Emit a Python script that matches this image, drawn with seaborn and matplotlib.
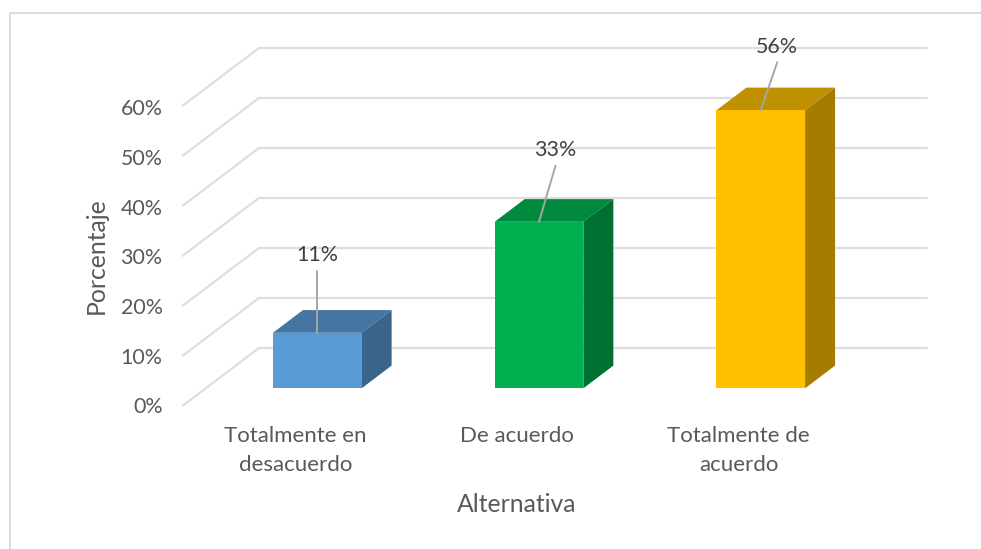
import matplotlib
matplotlib.use("Agg")
import matplotlib.pyplot as plt
import pandas as pd
import seaborn as sns
from matplotlib.lines import Line2D
from matplotlib.patches import Polygon
from matplotlib.transforms import Affine2D, IdentityTransform

categories = ["Totalmente en\ndesacuerdo", "De acuerdo", "Totalmente de\nacuerdo"]
values = [11.1, 33.3, 55.6]
value_labels = ["11%", "33%", "56%"]
y_ticks = [0, 10, 20, 30, 40, 50, 60]
y_tick_labels = ["0%", "10%", "20%", "30%", "40%", "50%", "60%"]
front_colors = ["#5B9BD5", "#00B050", "#FFC000"]
top_colors = ["#4475A3", "#008A3E", "#BF9000"]
side_colors = ["#3A6489", "#006F32", "#A67C00"]

W, H = 981, 549
sns.set_theme(style="white")
plt.rcParams["font.family"] = ["Lato", "DejaVu Sans"]
TEXT = "#595959"
GRID = "#DEDEDE"
FS_TICK = 15.4
FS_CAT = 16
FS_TITLE = 17.8

fig = plt.figure(figsize=(W / 100, H / 100), dpi=100, facecolor="white")
L, R, T, B = 206.4, 871.6, 88.3, 388.3
ax = fig.add_axes([L / W, 1 - B / H, (R - L) / W, (B - T) / H])

df = pd.DataFrame({"Alternativa": categories, "Porcentaje": values})
sns.barplot(data=df, x="Alternativa", y="Porcentaje", hue="Alternativa",
            palette=front_colors, order=categories, hue_order=categories,
            width=0.4, saturation=1, legend=False, ax=ax, zorder=5,
            edgecolor="none", linewidth=0, errorbar=None)
ax.set_xlim(-0.5, 2.5)
ax.set_ylim(0, 60)
for s in ax.spines.values():
    s.set_visible(False)
ax.patch.set_visible(False)

# wall and floor gridlines
for v in y_ticks:
    left = ax.transData.transform((-0.5, v))
    right = ax.transData.transform((2.5, v))
    corner = left + (52.6, 40.3)
    end = right + (55.4, 40.3)
    near = left + (-23.7, -17.4)
    ax.add_line(Line2D([near[0], corner[0], end[0]], [near[1], corner[1], end[1]],
                       transform=IdentityTransform(), color=GRID, lw=1.6,
                       clip_on=False, zorder=1, solid_joinstyle="miter"))

# 3-D faces built from the bars the library drew
DX, DY = 30, 22.7
for bar, top, side in zip(ax.patches, top_colors, side_colors):
    x, w, h = bar.get_x(), bar.get_width(), bar.get_height()
    br = ax.transData.transform((x + w, 0))
    tl = ax.transData.transform((x, h))
    tr = ax.transData.transform((x + w, h))
    d = (DX, DY)
    ax.add_patch(Polygon([tl, tr, tr + d, tl + d], closed=True, facecolor=top, edgecolor="none",
                         transform=IdentityTransform(), clip_on=False, zorder=4))
    ax.add_patch(Polygon([br, br + d, tr + d, tr], closed=True, facecolor=side, edgecolor="none",
                         transform=IdentityTransform(), clip_on=False, zorder=4))

# data labels and leader lines
label_offsets = [(0.5, 77.5), (16.5, 72), (16, 63)]
leader_starts = [(0, 62), (16.5, 56), (16.5, 48)]
for i, (v, txt) in enumerate(zip(values, value_labels)):
    a = ax.transData.transform((i, v))
    lo = label_offsets[i]
    ls = leader_starts[i]
    ax.add_line(Line2D([a[0], a[0] + ls[0]], [a[1], a[1] + ls[1]], transform=IdentityTransform(),
                       color="#A6A6A6", lw=1.4, clip_on=False, zorder=6))
    ax.annotate(txt, xy=(i, v), xytext=lo, textcoords="offset pixels", ha="center", va="center",
                fontsize=FS_TICK, color="#404040", zorder=7)

# axes text
ax.set_yticks(y_ticks)
ax.set_yticklabels(y_tick_labels, fontsize=FS_TICK, color=TEXT)
ax.tick_params(axis="y", length=0, pad=31.5)
ax.tick_params(axis="x", length=0, pad=27, labelsize=FS_CAT, labelcolor=TEXT)
for v, lab in zip(y_ticks, ax.get_yticklabels()):
    lab.set_transform(lab.get_transform() + Affine2D().translate(0, -17 - v / 30))
for lab in ax.get_xticklabels():
    lab.set_linespacing(1.55)
    lab.set_transform(lab.get_transform() + Affine2D().translate(-22, 0))

ax.set_xlabel("Alternativa", fontsize=FS_TITLE, color=TEXT)
ax.set_ylabel("Porcentaje", fontsize=FS_TITLE, color=TEXT)
ax.xaxis.set_label_coords((517 - L) / (R - L), -(505 - B) / (B - T))
ax.xaxis.label.set_va("center")
ax.yaxis.set_label_coords((96 - L) / (R - L), (B - 256) / (B - T))
ax.yaxis.label.set_va("center")

# chart frame
fig.add_artist(Line2D([10 / W, 10 / W, 1], [0, 1 - 13 / H, 1 - 13 / H], transform=fig.transFigure,
                      color="#D9D9D9", lw=1.3))

fig.savefig("out.png", dpi=100)
